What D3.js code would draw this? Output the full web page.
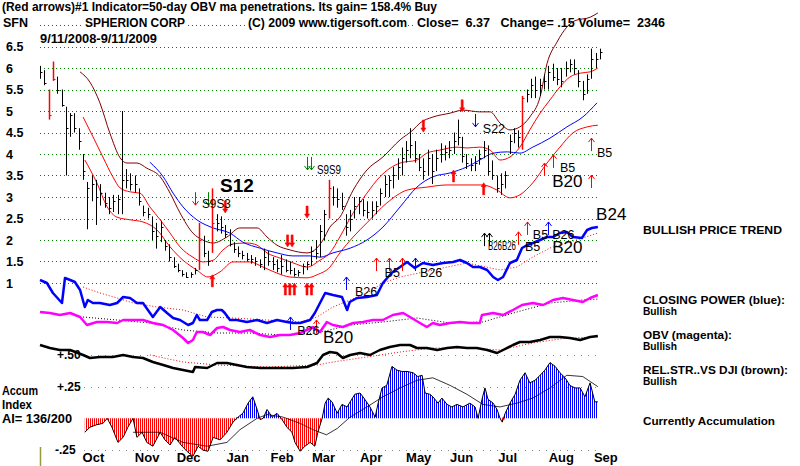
<!DOCTYPE html>
<html><head><meta charset="utf-8">
<script src="https://cdn.jsdelivr.net/npm/d3@7"></script>
<style>
body{margin:0;background:#fff}
svg{display:block}
text{font-family:"Liberation Sans",Arial,sans-serif;white-space:pre}
</style>
</head><body>
<svg id="c" width="800" height="466"></svg>
<script>
// ---------------- DATA ----------------
const priceTicks = [1,1.5,2,2.5,3,3.5,4,4.5,5,5.5,6,6.5,7];
const priceLabels = ["1","1.5","2","2.5","3","3.5","4","4.5","5","5.5","6","6.5"];
const monthTicks = ["2008-10-15","2008-11-19","2008-12-16","2009-01-17","2009-02-15","2009-03-14","2009-04-14","2009-05-15","2009-06-12","2009-07-12","2009-08-16","2009-09-14"];
const aiLevels = [0.5,0.25,-0.25];
const aiLevelLabels = ["+.50","+.25","-.25"];

// price bars (every 2nd trading day, index 0..130)
const barHigh = [6.05,5.95,5.5,6.15,5.8,5.5,5.1,4.95,4.95,4.6, 4.0,3.35,3.5,3.4,3.3,3.1,3.0,3.05,3.05,5.0, 3.65,3.55,3.5,3.2,2.8,2.75,2.55,2.4,2.45,2.0, 1.9,1.6,1.45,1.3,1.25,1.25,1.35,2.4,2.1,1.75, 3.2,2.6,2.55,2.35,2.25,1.95,1.85,1.75,1.7,1.65, 1.6,1.55,1.8,1.75,1.6,1.55,1.65,1.55,1.5,1.35, 1.3,1.45,1.5,1.85,2.0,2.35,2.7,3.4,3.25,3.2, 3.1,2.6,2.7,3.0,3.0,2.95,2.9,2.9,2.9,3.2, 3.5,3.5,3.7,3.9,4.15,4.3,4.6,4.3,4.0,3.9, 4.1,4.0,4.1,4.25,4.2,4.3,4.5,4.8,4.4,4.0, 3.9,3.95,4.1,4.3,4.2,3.85,3.5,3.55,3.6,4.45, 4.6,4.55,5.35,5.5,5.75,5.8,5.75,5.85,6.05,6.1, 6.0,6.0,6.15,6.2,6.2,5.95,5.7,5.85,6.45,6.35,6.45];
const barLow = [5.75,5.6,4.8,5.7,5.4,5.1,3.5,4.4,4.5,4.1, 3.4,2.25,2.9,2.35,2.8,2.75,2.6,2.65,2.6,2.6, 3.2,3.15,3.1,2.8,2.55,2.5,2.0,1.8,1.95,1.75, 1.5,1.35,1.25,1.15,1.12,1.12,1.2,1.3,1.6,1.4, 1.7,2.2,2.15,2.05,1.85,1.7,1.6,1.55,1.5,1.45, 1.4,1.35,1.3,1.4,1.3,1.25,1.2,1.25,1.2,1.15, 1.15,1.2,1.3,1.4,1.55,1.6,2.0,2.5,2.8,2.75, 2.7,2.1,2.2,2.5,2.6,2.55,2.5,2.5,2.6,2.8, 3.0,3.0,3.2,3.4,3.5,3.8,3.9,3.8,3.6,3.4, 3.5,3.3,3.6,3.8,3.85,3.9,4.0,4.2,3.8,3.65, 3.6,3.6,3.75,3.9,3.5,3.4,3.1,3.05,3.2,4.0, 4.25,4.15,4.1,5.2,5.3,5.3,5.35,5.5,5.5,5.7, 5.6,5.55,5.8,5.9,5.85,5.55,5.25,5.4,5.75,6.0,6.2];
const barClose = [5.9,5.65,4.9,5.75,5.5,5.15,4.6,4.9,4.6,4.3, 3.6,3.2,3.3,3.0,3.1,2.85,2.75,2.9,2.95,3.4, 3.4,3.3,3.3,2.9,2.65,2.6,2.2,2.1,2.3,1.85, 1.6,1.4,1.3,1.2,1.15,1.2,1.3,2.0,1.7,1.5, 2.4,2.4,2.3,2.15,1.9,1.8,1.7,1.65,1.55,1.55, 1.5,1.45,1.6,1.5,1.45,1.35,1.4,1.3,1.3,1.2, 1.25,1.4,1.45,1.75,1.7,2.2,2.6,3.2,3.0,2.95, 2.8,2.3,2.5,2.8,2.9,2.7,2.65,2.7,2.8,3.1, 3.3,3.4,3.5,3.7,3.9,4.1,4.2,3.9,3.7,3.6, 3.9,3.6,3.9,4.0,4.05,4.1,4.3,4.4,3.95,3.8, 3.75,3.8,3.9,4.1,3.6,3.5,3.2,3.3,3.5,4.3, 4.5,4.4,5.3,5.4,5.6,5.5,5.6,5.7,5.9,5.8, 5.75,5.7,6.0,6.1,6.0,5.7,5.4,5.75,6.2,6.2,6.37];
const redBarIdx = [2,3,37,40,67,112];

// price-panel moving averages / bands  [barIndex, price]
const upperBand = [[9.3,5.91],[11.6,5.67],[13.9,5.19],[16.2,4.49],[18.6,3.91],[20.2,3.79],[22.5,3.79],[24.8,3.67],[27.9,3.47],[30.2,3.09],[32.5,2.63],[35.5,2.16],[37.8,2.0],[40.2,1.93],[43.4,2.07],[46.4,2.28],[50.4,2.28],[52.7,2.07],[55,1.88],[58,1.77],[62,1.7],[63.8,1.77],[65.7,2.0],[67.3,2.3],[69.6,2.53],[72.7,3.16],[75.9,3.63],[79.6,3.93],[83.6,4.33],[86.6,4.56],[88.2,4.72],[91.2,4.86],[95.2,4.95],[98.2,5.02],[102.1,4.98],[104.5,4.98],[106.8,4.72],[109.1,4.56],[111.4,4.63],[113.7,4.86],[116.1,5.33],[117.7,6.1],[120,6.6],[122.3,6.95],[124.2,7.1],[127.7,7.18],[129.5,7.28]];
const midBand = [[10,4.86],[12.3,4.4],[14.6,3.93],[16.9,3.47],[18.6,3.21],[20.9,3.12],[23.2,3.09],[25.5,2.77],[27.9,2.47],[30.2,2.16],[32.5,1.84],[35.5,1.6],[37.8,1.49],[40.2,1.53],[42.5,1.77],[44.8,1.91],[48,1.93],[50.4,1.88],[52.7,1.7],[55.7,1.58],[58.7,1.47],[62,1.37],[65,1.53],[67.3,1.7],[69.6,2.07],[72.7,2.63],[75.9,3.09],[78.9,3.47],[83.6,3.79],[87.5,3.86],[89.8,4.02],[92.8,4.09],[96.8,4.16],[99.1,4.14],[102.1,4.16],[104.5,4.09],[106.8,3.86],[109.1,3.93],[111.4,4.16],[113.7,4.56],[116.1,4.95],[118.4,5.26],[120.7,5.56],[123,5.79],[125.4,5.88],[127.7,5.91],[129.5,6.0]];
const lowBand = [[10.4,3.86],[13.2,3.33],[15.6,2.77],[17.9,2.53],[20.9,2.47],[23.9,2.42],[27.2,2.23],[30.2,1.84],[33.2,1.53],[36.4,1.3],[39,1.14],[41.8,1.26],[44.8,1.49],[48.7,1.49],[51.8,1.37],[55,1.23],[58,1.14],[62,1.12],[64.3,1.19],[67.3,1.37],[69.6,1.7],[72.7,2.07],[75.9,2.4],[80.5,2.86],[85.2,3.16],[89.8,3.23],[94.5,3.28],[99.1,3.28],[102.8,3.28],[106.1,3.16],[109.1,2.98],[111.4,3.05],[114.4,3.33],[117.7,3.79],[120.7,4.16],[123.7,4.49],[127,4.63],[129.5,4.67]];
const ma50 = [[25.5,3.81],[28.6,3.47],[30.9,3.09],[33.2,2.77],[36.4,2.47],[40.2,2.28],[44.1,2.16],[47.1,1.95],[51.1,1.81],[55,1.7],[58.7,1.63],[62.7,1.63],[65,1.6],[68,1.7],[72,1.81],[75.9,2.0],[79.6,2.3],[83.6,2.77],[87.5,3.23],[91.2,3.47],[95.2,3.56],[99.1,3.7],[102.1,3.86],[105.2,4.02],[108.5,4.05],[111.4,4.02],[114.4,4.16],[118.4,4.37],[122.3,4.63],[126,4.86],[129.3,5.19]];

// Closing power (blue), its MA
const cpLine = [[0,50],[1.6,47],[3,37],[5.1,27],[5.8,52],[7,50],[8.1,48],[9.3,40],[10.4,23],[11.1,30],[12.3,27],[13.9,27],[16.2,25],[17.9,27],[19.3,33],[20.9,32],[22.5,27],[23.9,27],[26.2,13],[27.9,23],[29.5,17],[30.9,12],[32.5,10],[34.4,5],[35.5,7],[36.4,15],[37.1,10],[38.8,10],[39.9,18],[41.1,20],[42.2,20],[42.9,17],[44.1,10],[45.7,10],[48,8],[50.4,10],[52.7,7],[55,10],[57.3,8],[58.7,7],[60.4,7],[62.7,10],[63.8,17],[65,27],[66.2,37],[68,35],[70.1,33],[71.3,20],[71.9,28],[73.6,32],[75.9,33],[78.2,35],[79.6,47],[80.8,53],[81.9,58],[83.6,63],[85.2,68],[87,62],[88.9,67],[91.2,65],[93.6,67],[95.9,68],[97.5,70],[99.1,67],[100.5,63],[102.1,63],[103.8,60],[105.2,53],[106.3,50],[107.5,53],[109.1,67],[110.7,70],[111.9,82],[113.1,85],[114.4,87],[116.1,90],[117.7,93],[119.1,93],[120.7,97],[122.3,98],[123.7,93],[125.8,92],[127,100],[128.1,102],[129.5,103]];
const cpMA = [[10,43],[13.9,37],[17.9,32],[21.6,27],[27.2,23],[33.2,20],[38.8,13],[44.8,12],[52.7,10],[60.4,8],[64.3,13],[68,23],[72,30],[75.9,37],[79.6,47],[83.6,53],[91.2,60],[99.1,67],[106.8,60],[110.7,63],[114.4,73],[118.4,82],[122.3,87],[126,92],[129.5,97]];

// OBV (magenta), its MA
const obvLine = [[0,33],[2.3,32],[4.6,30],[7,32],[9.3,28],[10.9,20],[13.2,23],[15.6,23],[17.9,22],[19.3,25],[21.6,25],[23.9,25],[26.2,22],[28.6,20],[30.9,15],[33.2,7],[34.4,2],[35.5,5],[36.4,13],[37.8,13],[39.5,10],[41.1,17],[42.5,18],[44.1,15],[46.4,13],[48.7,15],[51.1,10],[53.4,8],[55.7,10],[58,10],[60.4,12],[63.4,18],[65,13],[66.6,23],[68,20],[70.3,18],[72.7,22],[75,23],[77.3,25],[79.6,25],[81.9,30],[84.3,32],[85.9,28],[88.2,22],[89.8,18],[91.2,22],[92.8,20],[95.2,22],[97.5,23],[99.8,22],[102.1,22],[102.6,30],[105.2,32],[107.5,30],[109.8,35],[111.9,40],[114.4,42],[116.8,40],[119.1,45],[121.4,47],[123.7,45],[126,43],[127.7,47],[129.5,50]];
const obvMA = [[10,28],[17.9,25],[25.5,22],[33.2,15],[41.1,12],[48.7,12],[56.4,10],[64.3,12],[72,20],[79.6,23],[87.5,27],[95.2,22],[102.8,23],[110.7,33],[118.4,42],[126,45],[129.5,46]];

// Relative strength vs DJI, its MA
const rsLine = [[0,30],[2.3,27],[4.6,25],[7,25],[10,20],[11.6,17],[13.9,18],[16.9,18],[19.3,20],[21.6,18],[23.9,17],[26.2,13],[28.6,10],[30.9,7],[33.2,5],[35.5,3],[36,8],[38.8,7],[41.1,12],[43.4,12],[45.7,10],[48,8],[51.1,7],[55,7],[58.7,7],[62,8],[64.3,12],[65.7,20],[67.3,23],[68.9,22],[70.3,17],[72,20],[74.3,22],[76.6,20],[78.9,25],[81.2,28],[83.6,30],[85.9,30],[87.5,27],[89.8,27],[92.2,25],[94.5,27],[96.8,28],[99.1,27],[101.4,27],[103.8,25],[106.1,22],[107.5,25],[109.8,30],[111.4,33],[113.7,33],[116.1,35],[118.4,38],[120.7,38],[123,37],[125.4,35],[127.7,38],[129.5,39]];
const rsMA = [[25.5,20],[33.2,13],[41.1,10],[52.7,8],[64.3,10],[68,13],[75.9,18],[83.6,23],[91.2,27],[99.1,27],[106.8,25],[114.4,32],[122.3,37],[129.5,38]];

// Accumulation index and its MA
const aiLine = [[10.4,-0.11],[11.6,-0.07],[13.2,-0.05],[14.6,-0.04],[15.6,0],[16.7,-0.07],[18.1,-0.19],[19.3,-0.15],[20.4,-0.07],[21.6,0],[22.5,-0.15],[23.7,-0.11],[24.8,-0.19],[26.2,-0.22],[27.9,-0.11],[29,-0.17],[30.2,-0.21],[31.3,-0.15],[33,-0.22],[34.1,-0.26],[35.5,-0.3],[36.7,-0.22],[37.8,-0.25],[39,-0.26],[40.2,-0.15],[41.8,-0.17],[43.4,-0.11],[44.8,-0.03],[46,0.01],[47.1,0.04],[48.3,0.12],[49.4,0.17],[50.4,0.07],[51.1,-0.01],[51.8,0],[52.7,0.07],[53.9,0.01],[55,0.04],[56.2,-0.01],[57.3,-0.07],[58.5,-0.11],[59.2,-0.19],[60.4,-0.26],[61.5,-0.22],[62.7,-0.19],[63.8,-0.22],[64.5,-0.11],[65.5,0],[66.2,0.12],[66.9,0.16],[67.8,0.13],[69,0.04],[70.1,0.11],[71.3,0.09],[72,0.13],[73.1,0.19],[74.3,0.2],[75.4,0.15],[76.6,0.09],[77.8,0.01],[78.5,0.12],[79.4,0.24],[80.5,0.26],[81.7,0.41],[82.9,0.38],[84,0.37],[85.2,0.37],[86.6,0.36],[87.7,0.33],[88.7,0.34],[89.4,0.2],[90.5,0.19],[91.2,0.17],[92.4,0.12],[93.3,0.16],[94.5,0.11],[95.6,0.09],[96.8,0.11],[98.2,0.09],[99.8,0.12],[101,0.09],[101.7,0],[102.6,0.15],[103.3,0.24],[104,0.15],[105.2,0.12],[106.1,0.07],[106.8,0],[107.3,-0.03],[108,0.04],[109.1,0.12],[110.3,0.19],[111.4,0.3],[112.6,0.36],[113.7,0.28],[114.9,0.3],[116.1,0.34],[117.2,0.38],[118.4,0.44],[119.6,0.41],[120.7,0.36],[121.9,0.32],[123,0.26],[124.2,0.24],[125.4,0.24],[126.5,0.17],[127.7,0.28],[128.8,0.13],[129.5,0.13]];
const aiMA = [[21.6,-0.11],[27.9,-0.11],[33.2,-0.19],[38.8,-0.22],[43.4,-0.19],[46.4,-0.09],[50.4,0],[52.7,0.03],[56.4,0.01],[60.4,-0.04],[63.4,-0.09],[66.5,-0.13],[69,-0.08],[72,0.01],[75.9,0.09],[79.6,0.17],[83.6,0.24],[87.5,0.3],[91.2,0.32],[95.2,0.26],[99.1,0.19],[102.8,0.11],[106.8,0.09],[110.7,0.12],[114.4,0.16],[118.4,0.24],[122.3,0.34],[126,0.33],[129.5,0.25]];

// signals: [barIndex, tip price]
const thinDownRed = [[36,2.81]];
const thinDownGreen = [[39,2.81],[62,3.63],[63,3.63]];
const thinDownBlue = [[101,4.63]];
const thinUpRed = [[64,0.14],[78,1.58],[81,1.58],[84,1.58],[111,2.19],[113,2.42],[117,3.79],[119,3.98],[128,4.37],[128,3.51]];
const thinUpBlue = [[58,0.21],[71,1.14],[87,1.58],[118,2.42]];
const thinUpBlack = [[103,2.16],[104.3,2.16]];
const thickDownRed = [[43,2.63,1],[58,1.84,2],[62,2.51,1],[89,4.51,1],[98,4.98,1]];
const thickUpRed = [[40,1.19,1],[58,1.0,3],[62.5,1.0,2],[96,3.63,1],[103,3.33,1]];

// signal labels: [text, barIndex, baseline price]
const sigBold = [["S12",41.8,3.12]];
const sigLarge = [["B20",118.9,3.23],["B24",129.1,2.47],["B20",118.9,1.70],["B20",65.7,-0.40]];
const sigSmall = [["S22",102.8,4.49],["B5",129.3,3.93],["B5",120.7,3.58],["B5",112.6,1.74],["B5",114.4,2.02],["B26",118.9,2.02],["B5",80,1.14],["B26",88.2,1.14],["B26",73.1,0.70],["B26",59.7,-0.21]];
// pairs of signals printed on top of each other in the original (drawn squeezed together)
const sigPairs = [["S9S3",37.6,2.74],["S9S9",64.3,3.53],["B26B26",104,1.77]];
const sigPairWidthPx = [29,24,28];

// texts
const title1 = "(Red arrows)#1 Indicator=50-day OBV ma penetrations. Its gain= 158.4% Buy";
const title2 = ["SFN","SPHERION CORP","(C) 2009 www.tigersoft.com","Close=  6.37   Change= .15 Volume=  2346"];
const dateRange = "9/11/2008-9/11/2009";
const legendLines = ["BULLISH PRICE TREND","CLOSING POWER (blue):","Bullish","OBV (magenta):","Bullish","REL.STR..VS DJI (brown):","Bullish","Currently Accumulation"];
const aiLabels = ["Accum","Index","AI= 136/200"];

// ---------------- DRAW ----------------
const svg = d3.select("#c");
svg.append("rect").attr("width",800).attr("height",466).attr("fill","#fff");

const x = d3.scaleLinear().domain([0,130]).range([40,600]);
const xt = d3.scaleTime().domain([new Date(2008,8,11), new Date(2009,8,11)]).range([40,600]);
const yP = d3.scaleLinear().domain([1,7]).range([283,25]);
const yCP = d3.scaleLinear().domain([0,100]).range([330,230]);
const yOBV = d3.scaleLinear().domain([0,100]).range([345,245]);
const yRS = d3.scaleLinear().domain([0,100]).range([375,275]);
const yAI = d3.scaleLinear().domain([-0.25,0.5]).range([450,355]);

// green gridlines
svg.append("g").selectAll("line").data(priceTicks).join("line")
  .attr("x1",40).attr("x2",600)
  .attr("y1",d=>Math.round(yP(d))+0.5).attr("y2",d=>Math.round(yP(d))+0.5)
  .attr("stroke","#008000").attr("stroke-width",1).attr("stroke-dasharray","1,3");

// gray AI level lines
svg.append("g").selectAll("line").data(aiLevels).join("line")
  .attr("x1",84).attr("x2",600)
  .attr("y1",d=>Math.round(yAI(d))+0.5).attr("y2",d=>Math.round(yAI(d))+0.5)
  .attr("stroke","#888").attr("stroke-width",1).attr("stroke-dasharray","1,6");

// header texts with white background
function bgText(str, xx, yy, len, size){
  const g = svg.append("g");
  const t = g.append("text").attr("x",xx).attr("y",yy).attr("font-size",size).attr("font-weight","bold")
    .attr("fill","#000").text(str);
  if(len){ t.attr("textLength",len).attr("lengthAdjust","spacingAndGlyphs"); }
  const b = t.node().getBBox();
  g.insert("rect","text").attr("x",b.x-1).attr("y",b.y).attr("width",b.width+2).attr("height",b.height).attr("fill","#fff");
  return t;
}
bgText(title1, 2, 11, 435, 12);
const t2x = [3,85,248,417], t2len = [25,100,159,248];
title2.forEach((s,k)=>bgText(s, t2x[k], 27, t2len[k], 12));
bgText(dateRange, 40, 43, 117, 12);

// price labels
svg.append("g").selectAll("text").data(priceLabels).join("text")
  .attr("x",6).attr("y",(d,k)=>yP(priceTicks[k])+4.5)
  .attr("font-size",12.5).attr("font-weight","bold").text(d=>d);

// bands & MA in price panel
const lineP = d3.line().x(d=>x(d[0])).y(d=>yP(d[1])).curve(d3.curveMonotoneX);
svg.append("path").datum(upperBand).attr("d",lineP).attr("fill","none").attr("stroke","#800000").attr("stroke-width",1);
svg.append("path").datum(midBand).attr("d",lineP).attr("fill","none").attr("stroke","#ff0000").attr("stroke-width",1);
svg.append("path").datum(lowBand).attr("d",lineP).attr("fill","none").attr("stroke","#ff0000").attr("stroke-width",1);
svg.append("path").datum(ma50).attr("d",lineP).attr("fill","none").attr("stroke","#0000ff").attr("stroke-width",1);

// price bars
const bars = d3.range(barHigh.length).map(i=>({i,h:barHigh[i],l:barLow[i],c:barClose[i],red:redBarIdx.includes(i)}));
const gb = svg.append("g");
gb.selectAll("line.v").data(bars).join("line").attr("class","v")
  .attr("x1",d=>Math.round(x(d.i))+0.5).attr("x2",d=>Math.round(x(d.i))+0.5)
  .attr("y1",d=>yP(d.h)).attr("y2",d=>yP(d.l))
  .attr("stroke",d=>d.red?"#ff0000":"#000").attr("stroke-width",d=>d.red?1.5:1);
gb.selectAll("line.c").data(bars).join("line").attr("class","c")
  .attr("x1",d=>Math.round(x(d.i))+0.5).attr("x2",d=>Math.round(x(d.i))+2.5)
  .attr("y1",d=>Math.round(yP(d.c))+0.5).attr("y2",d=>Math.round(yP(d.c))+0.5)
  .attr("stroke",d=>d.red?"#ff0000":"#000").attr("stroke-width",1);

// indicator lines
function drawLine(data, ys, color, width, dash){
  const g = d3.line().x(d=>x(d[0])).y(d=>ys(d[1]));
  const p = svg.append("path").datum(data).attr("d",g).attr("fill","none")
    .attr("stroke",color).attr("stroke-width",width).attr("stroke-linejoin","round");
  if(dash) p.attr("stroke-dasharray",dash);
}
drawLine(cpMA, yCP, "#ff0000", 1, "1,2");
drawLine(obvMA, yOBV, "#000", 1, "1,2");
drawLine(rsMA, yRS, "#ff0000", 1, "1,2");
drawLine(cpLine, yCP, "#0000ff", 2.5);
drawLine(obvLine, yOBV, "#ff00ff", 2.5);
drawLine(rsLine, yRS, "#000", 2.5);

// accumulation histogram (striped)
const defs = svg.append("defs");
[["pb","#0000ff"],["pr","#ff0000"]].forEach(([id,col])=>{
  const p = defs.append("pattern").attr("id",id).attr("patternUnits","userSpaceOnUse").attr("width",2).attr("height",8);
  p.append("rect").attr("x",0).attr("y",0).attr("width",1).attr("height",8).attr("fill",col);
});
const areaPos = d3.area().x(d=>x(d[0])).y0(yAI(0)).y1(d=>yAI(Math.max(0,d[1])));
const areaNeg = d3.area().x(d=>x(d[0])).y0(yAI(0)).y1(d=>yAI(Math.min(0,d[1])));
svg.append("path").datum(aiLine).attr("d",areaPos).attr("fill","url(#pb)");
svg.append("path").datum(aiLine).attr("d",areaNeg).attr("fill","url(#pr)");
drawLine(aiLine, yAI, "#000", 1);
drawLine(aiMA, yAI, "#000", 0.8);

// AI labels
svg.append("g").selectAll("text").data(aiLevelLabels).join("text")
  .attr("x",(d,k)=>k===2?55:57).attr("y",(d,k)=>yAI(aiLevels[k])+4)
  .attr("font-size",12).attr("font-weight","bold").text(d=>d);
const aiLy = [395,409,423], aiLlen=[36,30,70];
svg.append("g").selectAll("text").data(aiLabels).join("text")
  .attr("x",2).attr("y",(d,k)=>aiLy[k]).attr("font-size",12).attr("font-weight","bold")
  .attr("textLength",(d,k)=>aiLlen[k]).attr("lengthAdjust","spacingAndGlyphs").text(d=>d);

// olive marker line
svg.append("line").attr("x1",40.5).attr("x2",40.5).attr("y1",447).attr("y2",466).attr("stroke","#9a9a3c").attr("stroke-width",1.5);

// month axis
const ax = d3.axisBottom(xt).tickValues(monthTicks.map(d=>new Date(d+"T12:00:00"))).tickSize(0).tickPadding(0)
  .tickFormat(d3.timeFormat("%b"));
const axg = svg.append("g").attr("transform","translate(0,453)").call(ax);
axg.select(".domain").remove();
axg.selectAll("text").attr("font-size",13).attr("font-weight","bold").attr("fill","#000")
  .attr("font-family","'Liberation Sans',Arial,sans-serif");

// arrows
function thinArrow(list, dir, color){
  const L=13;
  list.forEach(([i,p])=>{
    const xx = Math.round(x(i))+0.5, tip = yP(p);
    const s = dir==="down"?-1:1;
    const tail = tip + s*L;
    svg.append("path").attr("d",`M${xx},${tail}L${xx},${tip}M${xx-3},${tip+s*4}L${xx},${tip}L${xx+3},${tip+s*4}`)
      .attr("fill","none").attr("stroke",color).attr("stroke-width",1);
  });
}
function thickArrow(list, dir){
  list.forEach(([i,p,n])=>{
    const tip = yP(p);
    const s = dir==="down"?-1:1;
    for(let k=0;k<n;k++){
      const xx = x(i) + (k-(n-1)/2)*4.5;
      const d = `M${xx},${tip}L${xx-2.5},${tip+s*4}L${xx-1},${tip+s*4}L${xx-1},${tip+s*12}L${xx+1},${tip+s*12}L${xx+1},${tip+s*4}L${xx+2.5},${tip+s*4}Z`;
      svg.append("path").attr("d",d).attr("fill","#ff0000").attr("stroke","#ff0000").attr("stroke-width",0.6);
    }
  });
}
thinArrow(thinDownRed,"down","#ff0000");
thinArrow(thinDownGreen,"down","#008000");
thinArrow(thinDownBlue,"down","#0000ff");
thinArrow(thinUpRed,"up","#ff0000");
thinArrow(thinUpBlue,"up","#0000ff");
thinArrow(thinUpBlack,"up","#000");
thickArrow(thickDownRed,"down");
thickArrow(thickUpRed,"up");

// signal labels
function labels(list, size, weight){
  svg.append("g").selectAll("text").data(list).join("text")
    .attr("x",d=>x(d[1])).attr("y",d=>yP(d[2])).attr("font-size",size).attr("font-weight",weight)
    .attr("fill","#000").text(d=>d[0]);
}
labels(sigSmall, 12.5, "normal");
labels(sigLarge, 17, "normal");
labels(sigBold, 19, "bold");
svg.append("g").selectAll("text").data(sigPairs).join("text")
  .attr("x",d=>x(d[1])).attr("y",d=>yP(d[2])).attr("font-size",13)
  .attr("textLength",(d,k)=>sigPairWidthPx[k]).attr("lengthAdjust","spacingAndGlyphs")
  .attr("fill","#000").text(d=>d[0]);

// right legend
const legY = [234,304,315,339,350,374,385,425];
const legLen = [139,142,34,89,34,145,34,132];
svg.append("g").selectAll("text").data(legendLines).join("text")
  .attr("x",643).attr("y",(d,k)=>legY[k]).attr("font-size",11.5).attr("font-weight","bold")
  .attr("textLength",(d,k)=>legLen[k]).attr("lengthAdjust","spacingAndGlyphs").text(d=>d);
</script>
</body></html>
